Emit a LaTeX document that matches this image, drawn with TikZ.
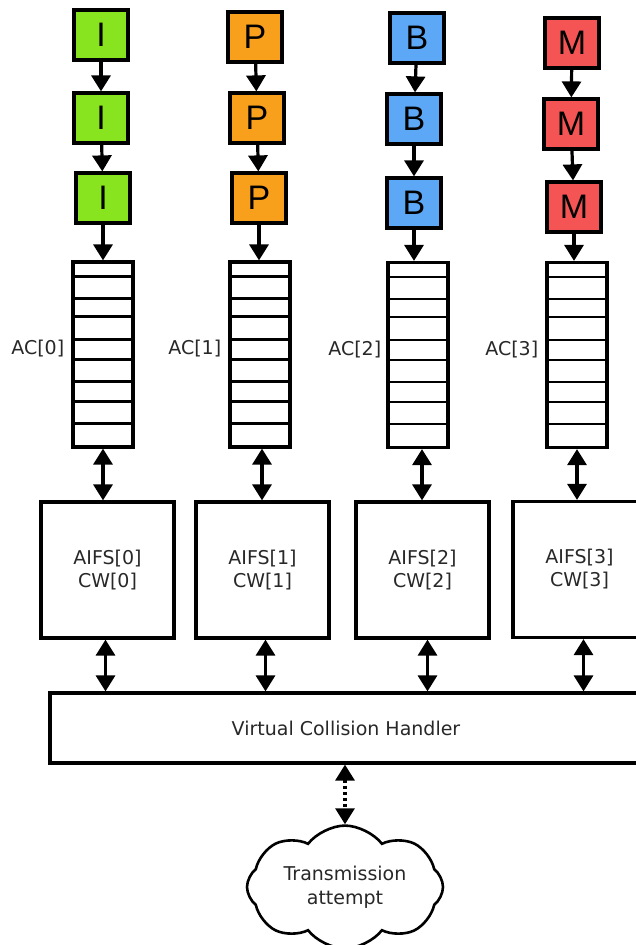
\documentclass[tikz,border=0pt]{standalone}
\usepackage{fontspec}
\setmainfont{DejaVu Sans}
\newfontfamily\framefont{Liberation Sans}
\usetikzlibrary{arrows.meta,shapes.symbols,calc}

\definecolor{iclr}{RGB}{136,228,30}
\definecolor{pclr}{RGB}{248,160,28}
\definecolor{bclr}{RGB}{92,168,246}
\definecolor{mclr}{RGB}{244,84,84}
\definecolor{ink}{RGB}{40,40,40}

\tikzset{
  frame/.style={draw, line width=3.2pt, minimum width=54pt, minimum height=50pt,
    inner sep=0pt, font=\framefont\fontsize{34}{34}\selectfont},
  queue/.style={draw, line width=3.2pt, minimum width=60pt, minimum height=185pt, inner sep=0pt},
  acbox/.style={draw, line width=3.2pt, minimum width=133pt, minimum height=136pt,
    inner sep=0pt, align=center, text=ink, font=\fontsize{19}{23}\selectfont},
  aclabel/.style={anchor=east, inner sep=0pt, text=ink, font=\fontsize{19}{22}\selectfont},
  head/.tip={Triangle[width=19pt 0 0, length=16pt 0 0]},
  flow/.style={line width=3.2pt, -head},
  duplex/.style={line width=3.2pt, head-head},
}

\begin{document}
\begin{tikzpicture}[x=1pt, y=-1pt]
\useasboundingbox (0,0) rectangle (636,945);
\fill[white] (0,0) rectangle (636,945);
\clip (0,0) rectangle (636,945);

% frame sequences
\node[frame, fill=iclr] (i1) at (101,35)  {I};
\node[frame, fill=iclr] (i2) at (101,118) {I};
\node[frame, fill=iclr] (i3) at (103,198) {I};
\node[frame, fill=pclr] (p1) at (255,37)  {P};
\node[frame, fill=pclr] (p2) at (257,118) {P};
\node[frame, fill=pclr] (p3) at (259,198) {P};
\node[frame, fill=bclr] (b1) at (417,38)  {B};
\node[frame, fill=bclr] (b2) at (414,119) {B};
\node[frame, fill=bclr] (b3) at (414,203) {B};
\node[frame, fill=mclr] (m1) at (572,43)  {M};
\node[frame, fill=mclr] (m2) at (571,124) {M};
\node[frame, fill=mclr] (m3) at (574,207) {M};

% access category queues
\node[queue] (q0) at (103,354.5) {};
\node[queue] (q1) at (260,354.5) {};
\node[queue] (q2) at (418,355)   {};
\node[queue] (q3) at (577,355)   {};
\foreach \q in {q0,q1,q2,q3}
  \foreach \o in {16,38,56,79,99,121,141,163}
    \draw[line width=2.8pt] ($(\q.north west)+(0,\o)$) -- ($(\q.north east)+(0,\o)$);

\node[aclabel] at ($(q0.west)+(-7,-6)$) {AC[0]};
\node[aclabel] at ($(q1.west)+(-7,-6)$) {AC[1]};
\node[aclabel] at ($(q2.west)+(-5,-5)$) {AC[2]};
\node[aclabel] at ($(q3.west)+(-7,-5)$) {AC[3]};

% contention parameters
\node[acbox] (a0) at (107.5,570) {AIFS[0]\\CW[0]};
\node[acbox] (a1) at (262.5,570) {AIFS[1]\\CW[1]};
\node[acbox] (a2) at (422.5,570) {AIFS[2]\\CW[2]};
\node[acbox] (a3) at (579.5,569.5) {AIFS[3]\\CW[3]};

% collision handler
\node[draw, line width=3.2pt, minimum width=592pt, minimum height=70pt, inner sep=0pt,
  text=ink, font=\fontsize{19}{22}\selectfont] (vch) at (346,728) {Virtual Collision Handler};

% medium access
\node[cloud, draw, line width=2.6pt, cloud puffs=8, cloud puff arc=105, aspect=1.78,
  minimum width=196pt, minimum height=110pt, inner sep=0pt, align=center, text=ink,
  font=\fontsize{19}{24}\selectfont] (tx) at (345,887) {Transmission\\attempt};

% frame flow
\draw[flow] (i1) -- (i2);
\draw[flow] (i2) -- (i3);
\draw[flow] (i3.south) -- (i3.south |- q0.north);
\draw[flow] (p1) -- (p2);
\draw[flow] (p2) -- (p3);
\draw[flow] (p3.south) -- (p3.south |- q1.north);
\draw[flow] (b1) -- (b2);
\draw[flow] (b2) -- (b3);
\draw[flow] (b3.south) -- (b3.south |- q2.north);
\draw[flow] (m1) -- (m2);
\draw[flow] (m2) -- (m3);
\draw[flow] (m3.south) -- (m3.south |- q3.north);

% queue <-> contention
\draw[duplex] (q0.south) -- (q0.south |- a0.north);
\draw[duplex] ($(q1.south)+(2,0)$) -- ($(q1.south |- a1.north)+(2,0)$);
\draw[duplex] ($(q2.south)+(4,0)$) -- ($(q2.south |- a2.north)+(4,0)$);
\draw[duplex] (q3.south) -- (q3.south |- a3.north);

% contention <-> handler
\draw[duplex] ($(a0.south)+(-2,0)$) -- ($(a0.south |- vch.north)+(-2,0)$);
\draw[duplex] ($(a1.south)+(3,0)$) -- ($(a1.south |- vch.north)+(3,0)$);
\draw[duplex] ($(a2.south)+(5,0)$) -- ($(a2.south |- vch.north)+(5,0)$);
\draw[duplex] ($(a3.south)+(4,0)$) -- ($(a3.south |- vch.north)+(4,0)$);

% handler <-> medium
\draw[duplex, dash pattern=on 3pt off 3pt] (tx.north |- vch.south) -- (tx.north);
\end{tikzpicture}
\end{document}
